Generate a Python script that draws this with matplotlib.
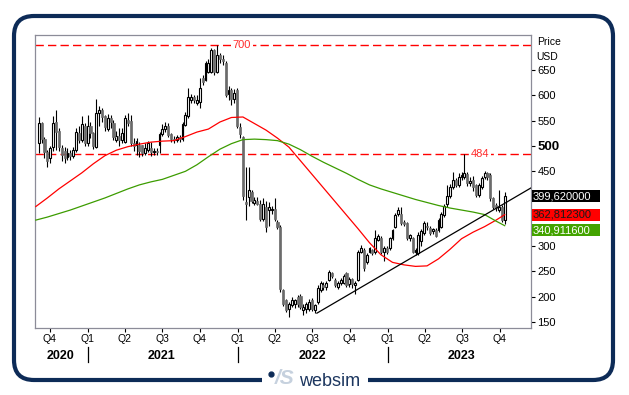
import matplotlib
matplotlib.use("Agg")
import matplotlib.pyplot as plt
import matplotlib.dates as mdates
import numpy as np
import pandas as pd
from matplotlib.path import Path
from matplotlib.patches import PathPatch, Rectangle
from matplotlib.transforms import blended_transform_factory

plt.rcParams['font.family'] = ['Liberation Sans', 'DejaVu Sans']

# weekly candles, first one on 2020-09-04
first_week = "2020-09-04"
opens = [505, 545, 514, 488, 475, 498, 547, 530, 495, 490,
         478, 486, 480, 492, 525, 512, 540, 506, 540, 525,
         498, 564, 570, 558, 534, 554, 546, 511, 520, 512,
         508, 551, 549, 505, 501, 501, 501, 486, 491, 495,
         487, 490, 501, 524, 534, 540, 524, 514, 512, 518,
         514, 541, 558, 591, 597, 584, 587, 634, 631, 647,
         647, 690, 647, 680, 672, 664, 602, 611, 592, 611,
         538, 518, 388, 398, 408, 386, 389, 385, 355, 378,
         372, 372, 375, 349, 339, 213, 193, 176, 183, 186,
         200, 201, 173, 176, 176, 193, 173, 190, 213, 223,
         220, 233, 246, 233, 220, 226, 226, 246, 224, 234,
         223, 233, 289, 292, 269, 289, 292, 289, 312, 316,
         289, 296, 296, 316, 339, 365, 365, 348, 346, 316,
         316, 289, 286, 310, 326, 340, 337, 330, 332, 332,
         339, 362, 384, 399, 418, 432, 422, 438, 438, 444,
         425, 432, 422, 402, 418, 438, 445, 442, 395, 382,
         372, 379, 352]
highs = [556, 548, 518, 492, 500, 558, 571, 535, 502, 497,
         495, 492, 498, 535, 540, 558, 545, 560, 548, 528,
         592, 578, 575, 560, 562, 560, 552, 530, 535, 535,
         560, 565, 561, 515, 515, 508, 502, 505, 510, 508,
         495, 495, 528, 544, 548, 545, 525, 520, 522, 522,
         548, 566, 614, 602, 600, 600, 634, 640, 668, 672,
         694, 692, 700, 685, 680, 668, 618, 615, 612, 615,
         545, 520, 458, 458, 412, 398, 398, 392, 395, 390,
         388, 380, 395, 352, 342, 216, 196, 190, 200, 196,
         203, 206, 185, 190, 195, 198, 186, 222, 230, 228,
         230, 253, 248, 236, 230, 236, 244, 248, 238, 236,
         230, 292, 302, 296, 286, 298, 295, 332, 325, 320,
         300, 300, 318, 335, 366, 378, 378, 352, 348, 324,
         318, 296, 329, 334, 350, 348, 340, 337, 336, 356,
         368, 384, 422, 424, 448, 436, 445, 448, 484, 448,
         438, 440, 424, 426, 440, 450, 448, 446, 398, 386,
         412, 382, 408]
lows = [486, 505, 475, 458, 466, 490, 491, 490, 470, 466,
        472, 472, 476, 487, 505, 508, 500, 500, 515, 494,
        496, 540, 548, 530, 530, 535, 512, 508, 500, 505,
        505, 540, 500, 490, 481, 478, 480, 482, 488, 480,
        482, 482, 486, 520, 528, 518, 508, 506, 508, 508,
        510, 540, 555, 585, 585, 580, 574, 620, 628, 645,
        645, 640, 645, 665, 660, 596, 590, 580, 585, 535,
        515, 392, 352, 380, 386, 382, 383, 350, 350, 329,
        340, 365, 350, 335, 210, 182, 170, 160, 180, 178,
        180, 175, 163, 168, 172, 172, 168, 186, 210, 214,
        214, 230, 236, 220, 216, 222, 224, 220, 220, 218,
        206, 230, 286, 250, 265, 286, 283, 285, 310, 285,
        271, 285, 292, 312, 336, 360, 342, 340, 312, 310,
        286, 282, 282, 300, 322, 332, 322, 325, 318, 328,
        336, 358, 378, 396, 414, 418, 418, 432, 434, 420,
        420, 410, 398, 398, 414, 434, 432, 390, 375, 370,
        368, 349, 345]
closes = [545, 514, 488, 470, 495, 545, 528, 498, 482, 476,
          486, 480, 492, 528, 512, 543, 505, 540, 525, 500,
          564, 570, 556, 538, 554, 548, 518, 520, 512, 525,
          554, 545, 505, 500, 510, 490, 486, 495, 505, 487,
          490, 488, 524, 534, 540, 521, 514, 512, 518, 514,
          544, 561, 597, 597, 590, 591, 614, 627, 664, 664,
          690, 647, 680, 672, 668, 601, 611, 592, 605, 540,
          524, 400, 384, 412, 389, 392, 385, 355, 385, 339,
          378, 375, 355, 339, 215, 186, 173, 186, 193, 193,
          186, 180, 180, 186, 190, 176, 183, 218, 226, 220,
          226, 249, 240, 223, 226, 233, 240, 223, 234, 224,
          226, 289, 296, 256, 283, 296, 287, 316, 320, 289,
          296, 289, 316, 332, 362, 372, 346, 345, 316, 322,
          289, 292, 322, 330, 346, 338, 326, 334, 320, 352,
          365, 380, 400, 418, 432, 422, 438, 442, 445, 425,
          430, 418, 402, 422, 435, 445, 438, 395, 379, 377,
          379, 352, 399.62]

# moving averages read every 4 weeks from 2020-08-28, plus the last week
ma_start = "2020-08-28"
ma_red = [379, 396, 414, 430, 446, 464, 480, 491, 498, 503,
          507, 509, 510, 518, 527, 533, 547, 556, 557, 544,
          531, 515, 497, 470, 443, 416, 389, 362, 335, 307,
          283, 268, 263, 260, 261, 275, 294, 315, 328, 339,
          352, 362.8123]
ma_green = [352, 358, 365, 372, 380, 388, 396, 405, 414, 422,
            428, 433, 441, 449, 462, 478, 493, 504, 512, 513,
            512, 510, 503, 492, 479, 467, 456, 445, 433, 422,
            414, 407, 400, 393, 387, 381, 376, 372, 368, 363,
            350, 340.9116]

trend_dates = ["2022-07-13", "2023-12-16"]
trend_prices = [167, 416]

levels = [700, 484]
level_label_dates = ["2022-01-11", "2023-08-14"]

year_labels = ["2020", "2021", "2022", "2023"]
year_label_dates = ["2020-10-28", "2021-07-01", "2022-07-01", "2023-07-01"]
year_breaks = ["2021-01-01", "2022-01-01", "2023-01-01"]

# 350 and 400 sit under the last-value boxes, so the reference shows no label there
y_ticks = [150, 200, 250, 300, 450, 500, 550, 600, 650]
last_values = [399.62, 362.8123, 340.9116]
last_labels = ["399,620000", "362,812300", "340,911600"]

weeks = pd.date_range(first_week, periods=len(closes), freq="7D")
ma_dates = list(pd.date_range(ma_start, periods=len(ma_red) - 1, freq="28D")) + [weeks[-1]]

NAVY = "#0d2b57"

fig = plt.figure(figsize=(6.29, 3.95), dpi=100)

# frame and logo drawn in pixel space
bg = fig.add_axes([0, 0, 1, 1], zorder=0)
bg.set_xlim(0, 629)
bg.set_ylim(395, 0)
bg.axis("off")
verts = [(262, 380), (34, 380), (14, 380), (14, 360), (14, 36), (14, 16), (34, 16),
         (593, 16), (613, 16), (613, 36), (613, 360), (613, 380), (593, 380), (368, 380)]
codes = [Path.MOVETO, Path.LINETO, Path.CURVE3, Path.CURVE3, Path.LINETO, Path.CURVE3, Path.CURVE3,
         Path.LINETO, Path.CURVE3, Path.CURVE3, Path.LINETO, Path.CURVE3, Path.CURVE3, Path.LINETO]
bg.add_patch(PathPatch(Path(verts, codes), facecolor="none", edgecolor=NAVY, lw=3.0,
                       capstyle="butt"))
bg.plot([271], [374], "o", color=NAVY, ms=3.5)
bg.text(285, 379, "/S", fontsize=15, style="italic", fontweight="bold", color="#c6d1de",
        ha="center", va="center")
bg.text(299, 381, "websim", fontsize=13, color="#1c365f", ha="left", va="center")

ax = fig.add_axes([35 / 629, 1 - 328 / 395, 496 / 629, 293 / 395], zorder=1)

dn = mdates.date2num(weeks)
o = np.array(opens, float)
h = np.array(highs, float)
l = np.array(lows, float)
c = np.array(closes, float)
up = c >= o

ax.vlines(dn, l, h, color="black", lw=0.8, zorder=2)
ax.bar(dn[up], (c - o)[up], bottom=o[up], width=4.6, facecolor="white",
       edgecolor="black", lw=0.8, zorder=3)
ax.bar(dn[~up], (o - c)[~up], bottom=c[~up], width=5.2, facecolor="#6b6b6b",
       edgecolor="#6b6b6b", lw=0.5, zorder=3)

ax.plot(ma_dates, ma_red, color="#ff0000", lw=0.9, zorder=4)
ax.plot(ma_dates, ma_green, color="#3c9c00", lw=0.9, zorder=4)
ax.plot(pd.to_datetime(trend_dates), trend_prices, color="black", lw=0.9, zorder=4)

for lev, d in zip(levels, level_label_dates):
    ax.axhline(lev, color="#ff0000", lw=1.0, dashes=(6, 3), zorder=1)
    ax.text(pd.Timestamp(d), lev, str(lev), color="#ff2a2a", fontsize=8, ha="center",
            va="center", zorder=5,
            bbox=dict(facecolor="white", edgecolor="none", pad=1.2))

ax.set_xlim(pd.Timestamp("2020-08-26"), pd.Timestamp("2023-12-16"))
ax.set_ylim(137.5, 720)

qs = pd.date_range("2020-10-01", "2023-10-01", freq="QS")
ax.set_xticks(qs)
ax.set_xticklabels([f"Q{(d.month - 1) // 3 + 1}" for d in qs])
ax.tick_params(axis="x", length=3, width=0.8, pad=1.5, labelsize=7.5, color="black")

ax.yaxis.tick_right()
ax.set_yticks(y_ticks)
ax.set_yticklabels([str(v) for v in y_ticks])
ax.tick_params(axis="y", length=3, width=0.8, pad=1.5, labelsize=8, color="black")
for lab in ax.get_yticklabels():
    if lab.get_text() == "500":
        lab.set_fontweight("bold")
        lab.set_fontsize(9.5)

for sp in ax.spines.values():
    sp.set_color("#8c8c98")
    sp.set_linewidth(0.9)

tb = blended_transform_factory(ax.transData, ax.transAxes)
for yl, d in zip(year_labels, year_label_dates):
    ax.text(pd.Timestamp(d), -0.097, yl, transform=tb, ha="center", va="center",
            fontsize=9, fontweight="bold")
for d in year_breaks:
    ax.plot([pd.Timestamp(d)] * 2, [-0.066, -0.117], transform=tb, color="black",
            lw=0.9, clip_on=False)

ax.text(1.012, 0.977, "Price", transform=ax.transAxes, fontsize=7.5, va="center")
ax.text(1.010, 0.925, "USD", transform=ax.transAxes, fontsize=7.5, va="center")

ty = blended_transform_factory(ax.transAxes, ax.transData)
box_colors = ["black", "#ff0000", "#43a300"]
text_colors = ["white", "#1a1a1a", "white"]
box_centers = [last_values[0], last_values[1], last_values[1] - 31]
for lab, yc, bc, tc in zip(last_labels, box_centers, box_colors, text_colors):
    ax.add_patch(Rectangle((1.002, yc - 12), 0.137, 24, transform=ty, facecolor=bc,
                           edgecolor="none", clip_on=False, zorder=5))
    ax.text(1.004, yc, lab, transform=ty, color=tc, fontsize=8, va="center", ha="left",
            zorder=6)

fig.savefig("out.png", dpi=100)
